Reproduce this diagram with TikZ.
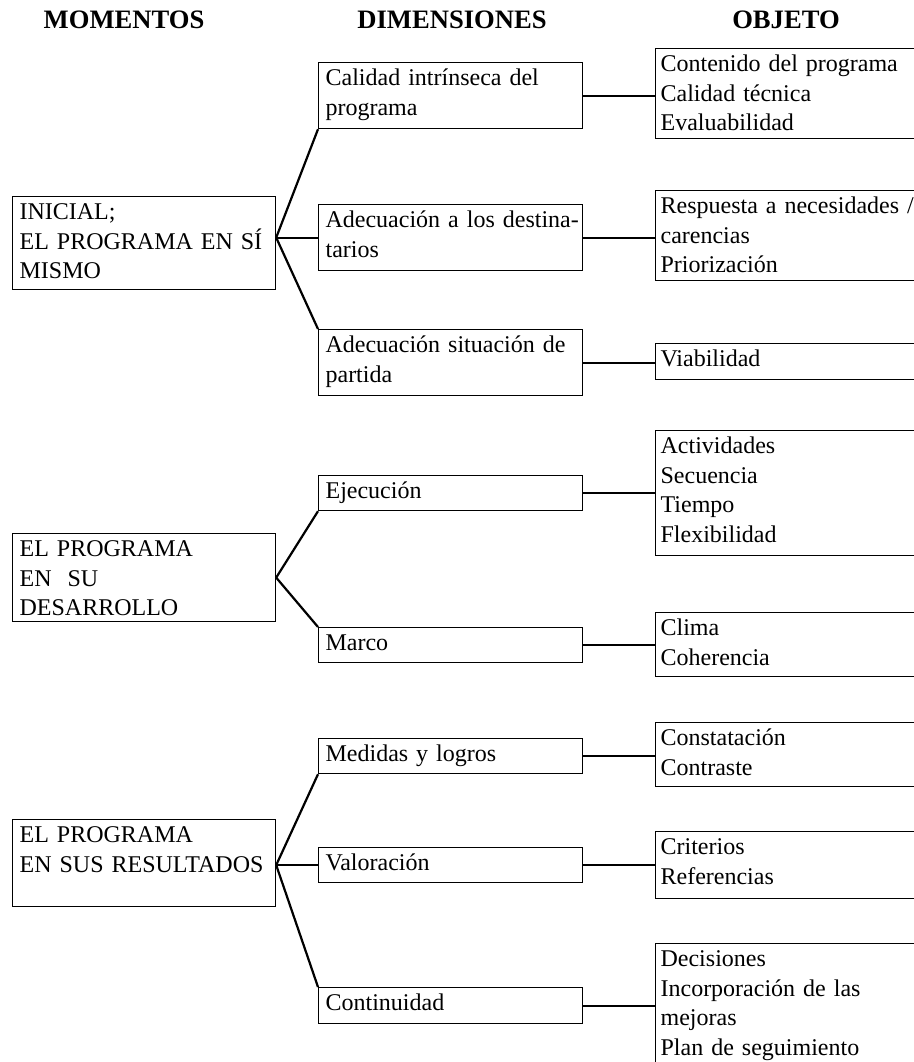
\documentclass[tikz,border=0pt]{standalone}
\usepackage{fontspec}
\setmainfont{Liberation Serif}

\begin{document}
\begin{tikzpicture}[x=0.5pt, y=-0.5pt,
  box/.style={draw, line width=0.6pt, anchor=north west, align=left,
    inner ysep=0pt, text height=11.5pt, font=\fontsize{12}{14.75}\selectfont},
  stagebox/.style={box, inner xsep=3.5pt, text width=124.5pt},
  dimbox/.style={box, inner xsep=3.5pt, text width=125pt},
  objbox/.style={box, inner xsep=2.5pt, text width=150pt},
  head/.style={anchor=base, font=\fontsize{13.3}{16}\selectfont\bfseries},
  link/.style={line width=1.1pt}]
  \useasboundingbox (0,0) rectangle (914,1062);
  \clip (0,0) rectangle (914,1062);
  % Column titles
  \node[head] (hmom) at (124,28) {MOMENTOS};
  \node[head] (hdim) at (452,28) {DIMENSIONES};
  \node[head] (hobj) at (786,28) {OBJETO};
  % Initial stage
  \node[stagebox, text depth=35pt] (ini) at (12,196) {INICIAL;\\EL PROGRAMA EN SÍ\\MISMO};
  \node[dimbox, text depth=21.5pt] (cal) at (318,62) {Calidad intrínseca del\\programa};
  \node[dimbox, text depth=21.5pt] (ade) at (318,204) {\mbox{Adecuación a los destina-}\\tarios};
  \node[dimbox, text depth=21.5pt] (sit) at (318,329) {Adecuación situación de\\partida};
  \node[objbox, text depth=33.5pt] (ocal) at (655,48) {Contenido del programa\\Calidad técnica\\Evaluabilidad};
  \node[objbox, text depth=33.5pt] (oade) at (655,190) {Respuesta a necesidades /\\carencias\\Priorización};
  \node[objbox, text depth=6.5pt] (osit) at (655,343) {Viabilidad};
  \coordinate (jini) at (ini.east |- ade.west);
  \draw[link] (jini) -- (cal.south west);
  \draw[link] (jini) -- (ade.west);
  \draw[link] (jini) -- (sit.north west);
  \draw[link] (cal.east) -- (cal.east -| ocal.west);
  \draw[link] (ade.east) -- (ade.east -| oade.west);
  \draw[link] (sit.east) -- (sit.east -| osit.west);
  % Development stage
  \node[stagebox, text depth=32.5pt] (des) at (12,533) {EL PROGRAMA\\EN\ \ SU\\DESARROLLO};
  \node[dimbox, text depth=6pt] (eje) at (318,475) {Ejecución};
  \node[dimbox, text depth=6pt] (mar) at (318,627) {Marco};
  \node[objbox, text depth=51pt] (oeje) at (655,430) {Actividades\\Secuencia\\Tiempo\\Flexibilidad};
  \node[objbox, text depth=20.5pt] (omar) at (655,612) {Clima\\Coherencia};
  \draw[link] (des.east) -- (eje.south west);
  \draw[link] (des.east) -- (mar.north west);
  \draw[link] (eje.east) -- (eje.east -| oeje.west);
  \draw[link] (mar.east) -- (mar.east -| omar.west);
  % Results stage
  \node[stagebox, text depth=32pt] (res) at (12,819) {EL PROGRAMA\\EN SUS RESULTADOS};
  \node[dimbox, text depth=6pt] (med) at (318,738) {Medidas y logros};
  \node[dimbox, text depth=6pt] (val) at (318,847) {Valoración};
  \node[dimbox, text depth=6.5pt] (con) at (318,987) {Continuidad};
  \node[objbox, text depth=20.5pt] (omed) at (655,722) {Constatación\\Contraste};
  \node[objbox, text depth=22pt] (oval) at (655,831) {Criterios\\Referencias};
  \node[objbox, text depth=58.5pt] (ocon) at (655,943) {Decisiones\\Incorporación de las\\mejoras\\Plan de seguimiento};
  \coordinate (jres) at (res.east |- val.west);
  \draw[link] (jres) -- (med.south west);
  \draw[link] (jres) -- (val.west);
  \draw[link] (jres) -- (con.north west);
  \draw[link] (med.east) -- (med.east -| omed.west);
  \draw[link] (val.east) -- (val.east -| oval.west);
  \draw[link] (con.east) -- (con.east -| ocon.west);
\end{tikzpicture}
\end{document}
